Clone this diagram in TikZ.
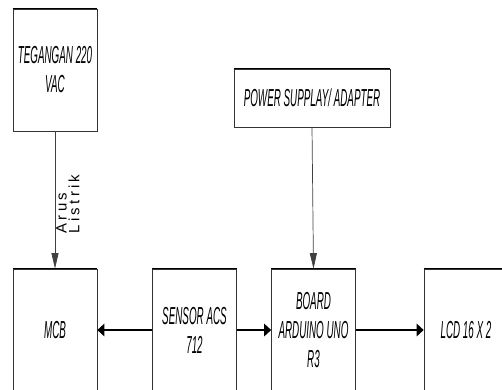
\documentclass[tikz,border=0pt]{standalone}
\usepackage{fontspec}
\setmainfont{Liberation Sans}
\newfontfamily\blockfont{Liberation Sans}[FakeStretch=0.40]
\newfontfamily\arusfont{Liberation Sans}[LetterSpace=22]
\usetikzlibrary{arrows.meta}
\tikzset{
  blok/.style={draw=black!80, line width=0.4pt, minimum width=1.68cm, minimum height=2.44cm,
    inner sep=0pt, align=center, font=\blockfont\itshape\fontsize{14}{16.5}\selectfont},
  panahv/.style={-{Triangle[length=3.1mm,width=1.4mm]}, black!75, line width=0.4pt},
  panahh/.style={-{Triangle[length=1.4mm,width=2.5mm]}, line width=0.9pt},
}
\begin{document}
\begin{tikzpicture}[x=0.02cm, y=-0.02cm]
			%%%%% START %%%%%
			\useasboundingbox (0, 0) rectangle (502, 389);
			\clip (0, 0) rectangle (502, 389);
			
			\node[blok] (teg) at (55, 70) {TEGANGAN 220\\VAC};
			\node[blok, minimum width=3.12cm, minimum height=1.16cm] (psu) at (312, 98) {POWER SUPPLAY/ ADAPTER};
			
			\node[blok] (mcb) at (55, 330) {MCB};
			\node[blok] (sensor) at (194.5, 330) {SENSOR ACS\\712};
			\node[blok] (board) at (313.5, 330) {BOARD\\ARDUINO UNO\\R3};
			\node[blok] (lcd) at (466, 330) {LCD 16 X 2};
			
			% garis atas yang lebih tebal
			\foreach \b in {teg, psu, mcb, sensor, board, lcd}
				\draw[line width=0.8pt] (\b.north west) -- (\b.north east);
			
			\draw[panahv] (teg.south) -- (mcb.north);
			\draw[panahv] (psu.south) -- (board.north);
			\draw[panahh] (sensor.west) -- (mcb.east);
			\draw[panahh] (sensor.east) -- (board.west);
			\draw[panahh] (board.east) -- (lcd.west);
			
			\node[rotate=90, align=left, inner sep=0pt, font=\arusfont\fontsize{8.5}{6}\selectfont] (arus) at (68, 204) {Arus\\Listrik};
			
			%%%%% END %%%%%
		\end{tikzpicture}
\end{document}
